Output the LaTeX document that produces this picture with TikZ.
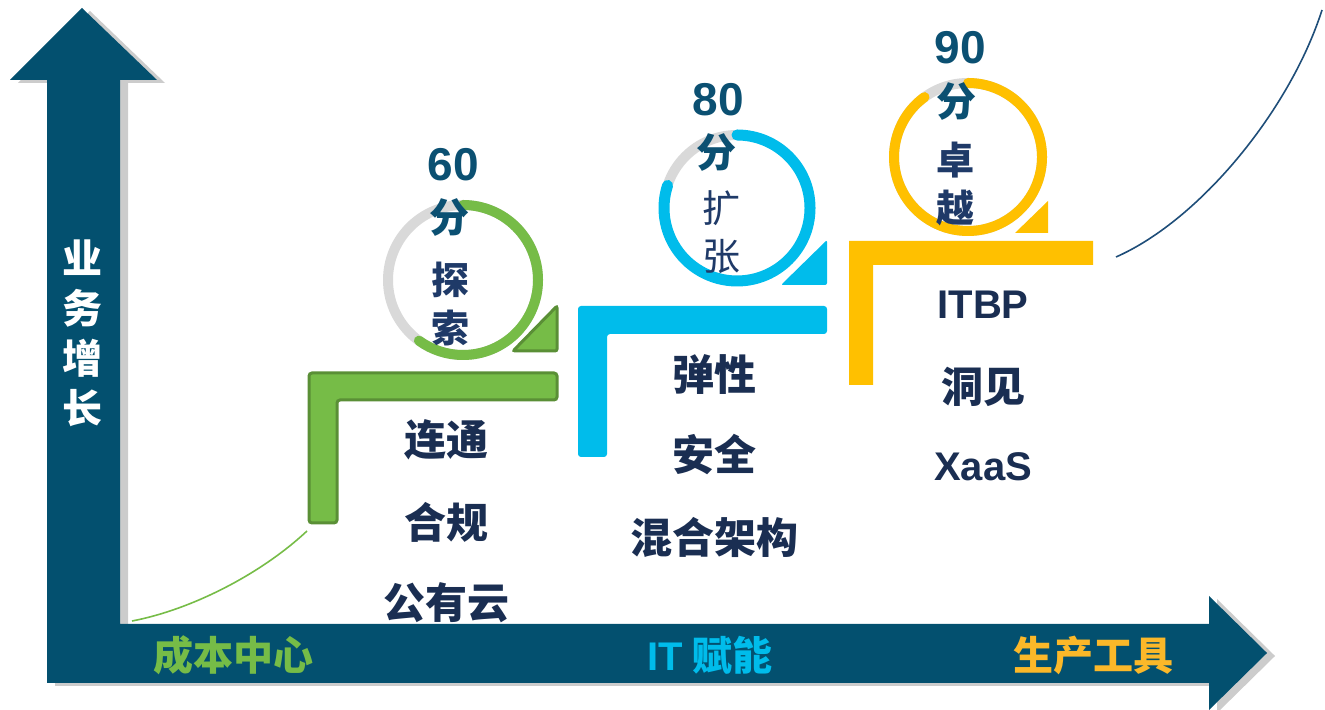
\documentclass[tikz,border=0pt]{standalone}
\usepackage{fontspec}
\setmainfont{Noto Sans CJK SC}
\newfontfamily\latinfont{Liberation Sans}
\usetikzlibrary{shadows}
\definecolor{axisblue}{HTML}{03506F}
\definecolor{stepgreen}{HTML}{76BC47}
\definecolor{edgegreen}{HTML}{5A8F36}
\definecolor{stepcyan}{HTML}{00BCEB}
\definecolor{stepyellow}{HTML}{FFC000}
\definecolor{ringgray}{HTML}{D9D9D9}
\definecolor{scoreblue}{HTML}{0B5072}
\definecolor{wordblue}{HTML}{1F3A68}
\definecolor{itemnavy}{HTML}{1A2E52}
\definecolor{toolgold}{HTML}{FBB829}
\definecolor{curvenavy}{HTML}{1F4E79}
\newcommand*{\ringR}{75}
\newcommand*{\ringW}{5pt}

\tikzset{
  ring/.style={draw=ringgray, line width=\ringW},
  arcline/.style={line width=\ringW, line cap=round},
  score/.style={text=scoreblue, font=\latinfont\bfseries\fontsize{23}{23}\selectfont},
  fen/.style={text=scoreblue, font=\bfseries\fontsize{20}{20}\selectfont},
  word/.style={text=wordblue, align=center, font=\bfseries\fontsize{19}{24}\selectfont},
  item/.style={text=itemnavy, font=\bfseries\fontsize{21}{21}\selectfont},
  latinitem/.style={text=itemnavy, font=\latinfont\bfseries\fontsize{20}{20}\selectfont},
  axislabel/.style={font=\bfseries\fontsize{20}{20}\selectfont}
}

\begin{document}
\begin{tikzpicture}[x=0.5pt,y=0.5pt]
	\useasboundingbox (0,0) rectangle (1325,710);
	
	\fill[axisblue, drop shadow={shadow xshift=4pt, shadow yshift=-1.5pt, opacity=.4}]
		(47,27) -- (1209,27) -- (1209,0) -- (1267,57) -- (1209,114) -- (1209,86)
		-- (120,86) -- (120,630) -- (157,630) -- (82,702) -- (10,630) -- (47,630) -- cycle;
	
	\node[axislabel, text=white, align=center, font=\bfseries\fontsize{20}{25}\selectfont] (growth) at (82,377) {业\\务\\增\\长};
	\node[axislabel, text=stepgreen] (cost) at (233,55) {成本中心};
	\node[axislabel, text=stepcyan] (enable) at (710,55) {{\latinfont IT} 赋能};
	\node[axislabel, text=toolgold] (tool) at (1093,55) {生产工具};
	
	\coordinate (c0) at (132,89);
	\coordinate (c1) at (307,179);
	\draw[stepgreen, line width=0.8pt] (c0) .. controls (190,100) and (260,135) .. (c1);
	\coordinate (c2) at (1116,453);
	\coordinate (c3) at (1322,700);
	\draw[curvenavy, line width=0.8pt] (c2) .. controls (1200,490) and (1290,600) .. (c3);
	
	\filldraw[fill=stepgreen, draw=edgegreen, line width=1.5pt, rounded corners=1.5pt]
		(309,337) -- (557,337) -- (557,310) -- (337,310) -- (337,187) -- (309,187) -- cycle;
	\filldraw[fill=stepgreen, draw=edgegreen, line width=1.5pt, rounded corners=1pt]
		(513,359) -- (557,359) -- (557,404) -- cycle;
	\fill[stepcyan, rounded corners=1.5pt]
		(578,404) -- (827,404) -- (827,376) -- (607,376) -- (607,253) -- (578,253) -- cycle;
	\fill[stepcyan, rounded corners=1pt]
		(781,425) -- (827,425) -- (827,470) -- cycle;
	\fill[stepyellow]
		(849,469) -- (1093,469) -- (1093,445) -- (873,445) -- (873,325) -- (849,325) -- cycle;
	\fill[stepyellow]
		(1015,477) -- (1048,477) -- (1048,509) -- cycle;
	
	\coordinate (g) at (463,430);
	\coordinate (b) at (737,502);
	\coordinate (y) at (968,553);
	\draw[ring] (g) circle[radius=\ringR];
	\draw[arcline, stepgreen] (g) ++(90:\ringR) arc[start angle=90, delta angle=-216, radius=\ringR];
	\draw[ring] (b) circle[radius=73];
	\draw[arcline, stepcyan, line width=5.5pt] (b) ++(90:73) arc[start angle=90, delta angle=-288, radius=73];
	\draw[ring] (y) circle[radius=74];
	\draw[arcline, stepyellow] (y) ++(90:74) arc[start angle=90, delta angle=-324, radius=74];
	
	\node[score] (s60) at (453,545) {60};
	\node[fen] (f60) at (449,492) {分};
	\node[word] (explore) at (450,406) {探\\索};
	\node[score] (s80) at (718,610) {80};
	\node[fen] (f80) at (716,557) {分};
	\node[word, font=\fontsize{19}{24}\selectfont] (expand) at (721,478) {扩\\张};
	\node[score] (s90) at (960,662) {90};
	\node[fen] (f90) at (956,608) {分};
	\node[word] (excel) at (955,526) {卓\\越};
	
	\node[item] (connect) at (446,270) {连通};
	\node[item] (comply) at (446,188) {合规};
	\node[item] (pubcloud) at (446,107) {公有云};
	\node[item] (elastic) at (714,335) {弹性};
	\node[item] (secure) at (714,255) {安全};
	\node[item] (hybrid) at (714,173) {混合架构};
	\node[latinitem] (itbp) at (983,405) {ITBP};
	\node[item] (insight) at (983,323) {洞见};
	\node[latinitem] (xaas) at (983,243) {XaaS};
\end{tikzpicture}
\end{document}
